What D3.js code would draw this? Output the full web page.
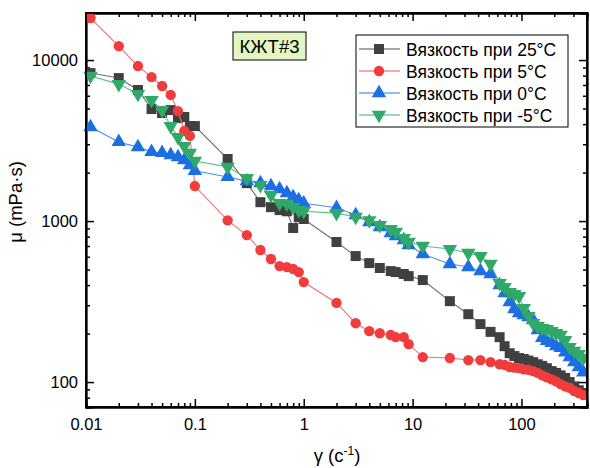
<!DOCTYPE html>
<html>
<head>
<meta charset="utf-8">
<script src="https://cdn.jsdelivr.net/npm/d3@7"></script>
<style>
  body { margin: 0; background: #fff; }
  svg { font-family: "Liberation Sans", Arial, sans-serif; }
  .axis path, .axis line { stroke: #000; }
  .axis text { font-size: 16.5px; fill: #000; }
</style>
</head>
<body>
<svg id="chart" width="590" height="468"></svg>
<script>
// shear rate, 1/s (same for all runs)
const shearRate = [0.011, 0.02, 0.03, 0.04, 0.05, 0.06, 0.07, 0.08, 0.09, 0.1,
    0.2, 0.3, 0.4, 0.5, 0.6, 0.7, 0.8, 0.9, 1, 2, 3, 4, 5, 6.3, 7, 8.3, 9.2, 12.4,
    22, 32.5, 42, 52, 63, 70, 78, 86, 95, 105, 116, 128, 141, 155, 171, 189, 208,
    229, 252, 277, 305, 336, 370];

// viscosity, mPa·s
const visc25 = [8300, 7730, 6520, 4960, 4690, 4890, 4360, 4430, 3890, 3890,
    2430, 1720, 1310, 1220, 1170, 1150, 905, 1060, 1030, 741, 606, 548, 511, 489, 482, 469, 455, 430,
    318, 264, 229, 205, 190, 167, 151, 145, 141, 139, 136, 133, 129, 126, 122, 117, 114,
    110, 106, 100, 94, 89, 85.5];
const visc5 = [18240, 12210, 9180, 7840, 6900, 6070, 4820, 3630, 3380, 1650,
    1010, 818, 661, 581, 525, 518, 504, 482, 418, 310, 232, 207, 201, 196, 190, 190, 172, 143,
    141, 137, 137, 133, 129, 128, 124, 123, 122, 120, 119, 117, 114, 110, 107, 104, 101,
    97, 94, 92, 88, 85.5, 83];
const visc0 = [3840, 3100, 2880, 2690, 2650, 2570, 2500, 2390, 2230, 2050,
    1880, 1770, 1720, 1650, 1580, 1490, 1410, 1350, 1290, 1210, 1090, 986, 918, 842, 807, 762, 710, 624,
    541, 518, 489, 469, 400, 357, 314, 284, 268, 261, 253, 243, 210, 188, 180, 175, 167,
    163, 153, 143, 133, 124, 115];
const viscM5 = [7960, 7090, 6150, 5640, 4890, 3890, 3320, 2920, 2650, 2360,
    2170, 1850, 1670, 1450, 1290, 1280, 1220, 1170, 1150, 1120, 1060, 1010, 944, 892, 855, 784, 741, 700,
    670, 633, 606, 541, 412, 389, 362, 352, 342, 288, 257, 232, 223, 216, 213, 207, 201,
    196, 182, 165, 156, 149, 141];

const seriesNames = ["Вязкость при 25°C", "Вязкость при 5°C", "Вязкость при 0°C", "Вязкость при -5°C"];

const xMajor = [0.01, 0.1, 1, 10, 100];
const xMajorLabels = ["0.01", "0.1", "1", "10", "100"];
const yMajor = [100, 1000, 10000];
const yMajorLabels = ["100", "1000", "10000"];

const series = [
    { name: seriesNames[0], values: visc25, color: "#404040", line: "#6e6e6e", shape: "square" },
    { name: seriesNames[1], values: visc5, color: "#f03c3c", line: "#f27070", shape: "circle" },
    { name: seriesNames[2], values: visc0, color: "#1b6fe3", line: "#4d8ee8", shape: "up" },
    { name: seriesNames[3], values: viscM5, color: "#2fa868", line: "#5cbc88", shape: "down" }
];

const svg = d3.select("#chart");
const margin = { left: 86, top: 13, right: 3, bottom: 61 };
const W = 590 - margin.left - margin.right,
    H = 468 - margin.top - margin.bottom;

const x = d3.scaleLog().domain([0.01, 400]).range([0, W]);
const y = d3.scaleLog().domain([70, 19600]).range([H, 0]);

const g = svg.append("g").attr("transform", `translate(${margin.left},${margin.top})`);

function minorTicks(scale) {
    const [a, b] = scale.domain().map(v => Math.log10(v));
    const out = [];
    for (let e = Math.floor(a); e <= Math.ceil(b); e++) {
        for (let m = 2; m <= 9; m++) {
            const v = m * Math.pow(10, e);
            if (v >= scale.domain()[0] && v <= scale.domain()[1]) out.push(v);
        }
    }
    return out;
}

// minor ticks on all four sides
g.append("g").attr("class", "axis").attr("transform", `translate(0,${H})`)
    .call(d3.axisBottom(x).tickValues(minorTicks(x)).tickSize(-4).tickFormat(""));
g.append("g").attr("class", "axis")
    .call(d3.axisTop(x).tickValues(minorTicks(x)).tickSize(-4).tickFormat(""));
g.append("g").attr("class", "axis")
    .call(d3.axisLeft(y).tickValues(minorTicks(y)).tickSize(-4).tickFormat(""));
g.append("g").attr("class", "axis").attr("transform", `translate(${W},0)`)
    .call(d3.axisRight(y).tickValues(minorTicks(y)).tickSize(-4).tickFormat(""));

// major ticks
g.append("g").attr("class", "axis").attr("transform", `translate(0,${H})`)
    .call(d3.axisBottom(x).tickValues(xMajor).tickSize(-8).tickPadding(11)
        .tickFormat((d, i) => xMajorLabels[i]));
g.append("g").attr("class", "axis")
    .call(d3.axisTop(x).tickValues(xMajor).tickSize(-8).tickFormat(""));
g.append("g").attr("class", "axis")
    .call(d3.axisLeft(y).tickValues(yMajor).tickSize(-8).tickPadding(8)
        .tickFormat((d, i) => yMajorLabels[i]));
g.append("g").attr("class", "axis").attr("transform", `translate(${W},0)`)
    .call(d3.axisRight(y).tickValues(yMajor).tickSize(-8).tickFormat(""));

g.selectAll(".axis line").attr("stroke-width", 1.5);
g.selectAll(".axis path").attr("stroke-width", 1.8);

function symbolPath(shape) {
    if (shape === "square") return d3.symbol(d3.symbolSquare, 100)();
    if (shape === "circle") return d3.symbol(d3.symbolCircle, 84)();
    return d3.symbol(d3.symbolTriangle, 90)();
}

const clip = g.append("clipPath").attr("id", "clip")
    .append("rect").attr("x", -6).attr("y", -6).attr("width", W + 6).attr("height", H + 6);

const plot = g.append("g").attr("clip-path", "url(#clip)");
const line = d3.line().x(d => x(d[0])).y(d => y(d[1]));

series.forEach(s => {
    const pts = shearRate.map((r, i) => [r, s.values[i]]);
    plot.append("path")
        .datum(pts)
        .attr("fill", "none")
        .attr("stroke", s.line)
        .attr("stroke-width", 1.1)
        .attr("d", line);
    plot.selectAll(null)
        .data(pts)
        .enter().append("path")
        .attr("d", symbolPath(s.shape))
        .attr("fill", s.color)
        .attr("transform", d => `translate(${x(d[0])},${y(d[1])})` + (s.shape === "down" ? " rotate(180)" : ""));
});

// frame on top
g.append("rect").attr("width", W).attr("height", H)
    .attr("fill", "none").attr("stroke", "#000").attr("stroke-width", 1.8);

// sample label
const tag = svg.append("g");
tag.append("rect").attr("x", 233).attr("y", 32).attr("width", 73).attr("height", 28)
    .attr("fill", "#e3f6c2").attr("stroke", "#000").attr("stroke-width", 1);
tag.append("text").attr("x", 269.5).attr("y", 53).attr("text-anchor", "middle")
    .attr("font-size", 18.5).text("КЖТ#3");

// legend
const leg = svg.append("g");
leg.append("rect").attr("x", 356).attr("y", 35).attr("width", 212).attr("height", 92)
    .attr("fill", "#fff").attr("stroke", "#000").attr("stroke-width", 1);
series.forEach((s, i) => {
    const cy = 49 + i * 22;
    leg.append("line").attr("x1", 359).attr("x2", 400).attr("y1", cy).attr("y2", cy)
        .attr("stroke", s.line).attr("stroke-width", 1.3).attr("opacity", 0.8);
    leg.append("path").attr("d", symbolPath(s.shape)).attr("fill", s.color)
        .attr("transform", `translate(379,${cy})` + (s.shape === "down" ? " rotate(180)" : ""));
    leg.append("text").attr("x", 406).attr("y", cy + 6.5).attr("font-size", 17.5).text(s.name);
});

// axis titles
const xt = svg.append("text").attr("x", 337).attr("y", 462).attr("text-anchor", "middle")
    .attr("font-size", 18.5);
xt.append("tspan").text("γ (c");
xt.append("tspan").attr("font-size", 12).attr("dy", -7).text("-1");
xt.append("tspan").attr("dy", 7).text(")");

svg.append("text")
    .attr("transform", "translate(22,202) rotate(-90)")
    .attr("text-anchor", "middle")
    .attr("font-size", 18.5)
    .text("μ (mPa·s)");
</script>
</body>
</html>
